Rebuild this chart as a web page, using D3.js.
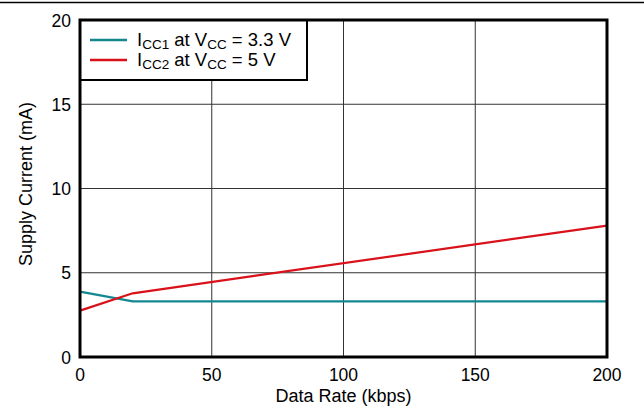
<!DOCTYPE html>
<html lang="en">
<head>
<meta charset="utf-8">
<title>Supply Current vs Data Rate</title>
<script src="https://cdn.jsdelivr.net/npm/d3@7"></script>
<style>
  body { margin: 0; background: #fff; }
  text { font-family: "Liberation Sans", Arial, sans-serif; }
</style>
</head>
<body>
<script>
var xTicks = [0, 50, 100, 150, 200];
var yTicks = [0, 5, 10, 15, 20];
var icc1Rate = [0, 20, 200];
var icc1Current = [3.88, 3.3, 3.3];
var icc2Rate = [0, 20, 200];
var icc2Current = [2.75, 3.78, 7.8];
var seriesNames = ["CC1", "CC2"];
var seriesVcc = ["3.3 V", "5 V"];
var seriesColors = ["#13878f", "#d9111a"];

var W = 644, H = 409;
var pLeft = 80, pRight = 607, pTop = 20, pBottom = 357;

var svg = d3.select("body").append("svg")
  .attr("width", W).attr("height", H);

// top rule
svg.append("line")
  .attr("x1", 0).attr("x2", W).attr("y1", 2.5).attr("y2", 2.5)
  .attr("stroke", "#000").attr("stroke-width", 1.5);

var x = d3.scaleLinear().domain([0, 200]).range([pLeft, pRight]);
var y = d3.scaleLinear().domain([0, 20]).range([pBottom, pTop]);

// grid
svg.selectAll(".gx").data(xTicks.slice(1, -1)).enter().append("line")
  .attr("x1", function(d){ return x(d); }).attr("x2", function(d){ return x(d); })
  .attr("y1", pTop).attr("y2", pBottom)
  .attr("stroke", "#333").attr("stroke-width", 1);
svg.selectAll(".gy").data(yTicks.slice(1, -1)).enter().append("line")
  .attr("x1", pLeft).attr("x2", pRight)
  .attr("y1", function(d){ return y(d); }).attr("y2", function(d){ return y(d); })
  .attr("stroke", "#333").attr("stroke-width", 1);

// tick labels
svg.selectAll(".tx").data(xTicks).enter().append("text")
  .attr("x", function(d){ return x(d); }).attr("y", pBottom + 24)
  .attr("text-anchor", "middle").attr("font-size", 17.5)
  .text(function(d){ return d; });
svg.selectAll(".ty").data(yTicks).enter().append("text")
  .attr("x", pLeft - 9).attr("y", function(d){ return y(d) + 6.5; })
  .attr("text-anchor", "end").attr("font-size", 17.5)
  .text(function(d){ return d; });

// axis titles
svg.append("text")
  .attr("x", (pLeft + pRight) / 2).attr("y", pBottom + 45)
  .attr("text-anchor", "middle").attr("font-size", 18)
  .text("Data Rate (kbps)");
svg.append("text")
  .attr("transform", "translate(32,184) rotate(-90)")
  .attr("text-anchor", "middle").attr("font-size", 18)
  .text("Supply Current (mA)");

// series
var line = d3.line()
  .x(function(d){ return x(d[0]); })
  .y(function(d){ return y(d[1]); });
var series = [
  d3.zip(icc1Rate, icc1Current),
  d3.zip(icc2Rate, icc2Current)
];
svg.selectAll(".series").data(series).enter().append("path")
  .attr("d", line)
  .attr("fill", "none")
  .attr("stroke", function(d, i){ return seriesColors[i]; })
  .attr("stroke-width", 2.2);

// legend
var lg = svg.append("g");
lg.append("rect")
  .attr("x", pLeft).attr("y", pTop).attr("width", 227).attr("height", 60)
  .attr("fill", "#fff").attr("stroke", "#000").attr("stroke-width", 2);
seriesNames.forEach(function(name, i) {
  var ly = pTop + 20 + i * 20;
  lg.append("line")
    .attr("x1", 90).attr("x2", 127).attr("y1", ly).attr("y2", ly)
    .attr("stroke", seriesColors[i]).attr("stroke-width", 2.5);
  var t = lg.append("text").attr("x", 137).attr("y", ly + 6).attr("font-size", 18.5);
  t.append("tspan").text("I");
  t.append("tspan").attr("font-size", 13.5).attr("dy", 3).text(name);
  t.append("tspan").attr("dy", -3).text(" at V");
  t.append("tspan").attr("font-size", 13.5).attr("dy", 3).text("CC");
  t.append("tspan").attr("dy", -3).text(" = " + seriesVcc[i]);
});

// frame
svg.append("rect")
  .attr("x", pLeft).attr("y", pTop).attr("width", pRight - pLeft).attr("height", pBottom - pTop)
  .attr("fill", "none").attr("stroke", "#000").attr("stroke-width", 3);
</script>
</body>
</html>
